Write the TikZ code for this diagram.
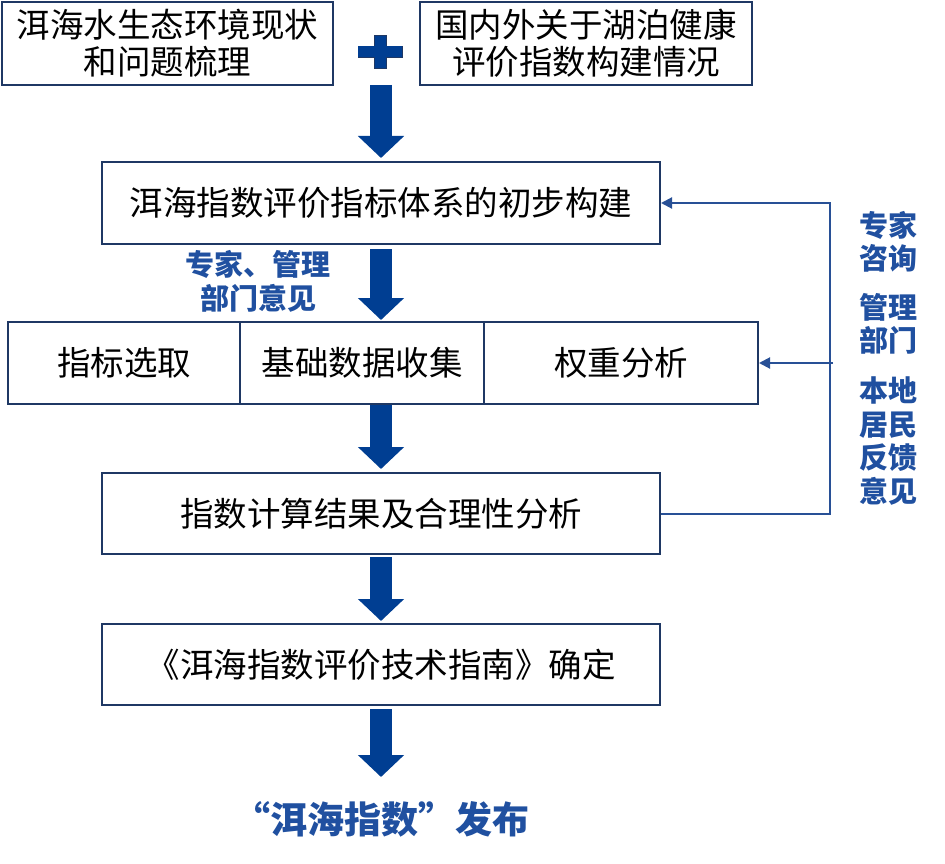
\documentclass[tikz,border=0pt]{standalone}
\usepackage{fontspec}
\newfontfamily\cjk{Noto Sans CJK SC}
\usetikzlibrary{arrows.meta}
\definecolor{boxline}{RGB}{31,56,100}
\definecolor{arrowblue}{RGB}{0,62,146}
\definecolor{labelblue}{RGB}{32,80,160}
\definecolor{fbblue}{RGB}{40,80,150}
\tikzset{
	stepbox/.style={draw=boxline, line width=2pt, inner sep=0pt, align=center,
		font=\cjk\fontsize{33.5}{37}\selectfont},
	bigarrow/.style={draw=arrowblue, line width=22pt,
		-{Triangle[width=45pt,length=22pt]}},
	fbline/.style={draw=fbblue, line width=2pt},
	fbtip/.style={-{Triangle[width=11pt,length=11pt]}},
	bluelabel/.style={text=labelblue, align=center,
		font=\cjk\bfseries\fontsize{29}{33.5}\selectfont}
}

\begin{document}
\begin{tikzpicture}[x=1pt, y=-1pt]
	%%%%% START %%%%%
	\useasboundingbox (0,0) rectangle (945,864);
	
	% two sources
	\node[stepbox, minimum width=331pt, minimum height=83pt] (src1) at (167.5,43.5) {洱海水生态环境现状\\和问题梳理};
	\node[stepbox, minimum width=332pt, minimum height=83pt] (src2) at (586,43.5) {国内外关于湖泊健康\\评价指数构建情况};
	\fill[arrowblue, draw=boxline, line width=0.8pt] (358,46) rectangle (402,57);
	\fill[arrowblue, draw=boxline, line width=0.8pt] (374,35) rectangle (386.5,68);
	\fill[arrowblue] (358.4,46.4) rectangle (401.6,56.6);
	\coordinate (plus) at (381,85);
	
	% main steps
	\node[stepbox, minimum width=558pt, minimum height=82pt] (build) at (381,203) {洱海指数评价指标体系的初步构建};
	\node[stepbox, minimum width=232pt, minimum height=82pt] (sel) at (124,363) {指标选取};
	\node[stepbox, minimum width=244pt, minimum height=82pt] (data) at (362,363) {基础数据收集};
	\node[stepbox, minimum width=274pt, minimum height=82pt] (weight) at (621,363) {权重分析};
	\node[stepbox, minimum width=558pt, minimum height=81pt] (calc) at (381,513.5) {指数计算结果及合理性分析};
	\node[stepbox, minimum width=558pt, minimum height=81pt] (guide) at (381,664.5) {《洱海指数评价技术指南》确定};
	\node[text=labelblue, font=\cjk\bfseries\fontsize{37}{42}\selectfont] (pub) at (381,819) {“洱海指数”发布};
	\coordinate (pubtop) at (381,777);
	
	% block arrows
	\draw[bigarrow] (plus) -- ([yshift=3pt]build.north);
	\draw[bigarrow, shorten <=4pt] (build.south) -- ([yshift=1pt]build.south |- data.north);
	\draw[bigarrow] (calc.north |- data.south) -- ([yshift=3pt]calc.north);
	\draw[bigarrow, shorten <=2pt] (calc.south) -- ([yshift=2pt]guide.north);
	\draw[bigarrow, shorten <=3pt] (guide.south) -- (pubtop);
	
	\node[bluelabel] (opinion) at (258,281.5) {专家、管理\\部门意见};
	
	% feedback loop
	\coordinate (fb) at (830,203);
	\coordinate (fbmid) at (833,363);
	\draw[fbline, fbtip] (calc.east) -| (fb) -- (build.east);
	\draw[fbline, fbtip] (fbmid) -- (weight.east);
	
	\node[bluelabel] (expert) at (888,242) {专家\\咨询};
	\node[bluelabel] (dept) at (888,324) {管理\\部门};
	\node[bluelabel] (local) at (888,441) {本地\\居民\\反馈\\意见};
	%%%%% END %%%%%
\end{tikzpicture}
\end{document}
